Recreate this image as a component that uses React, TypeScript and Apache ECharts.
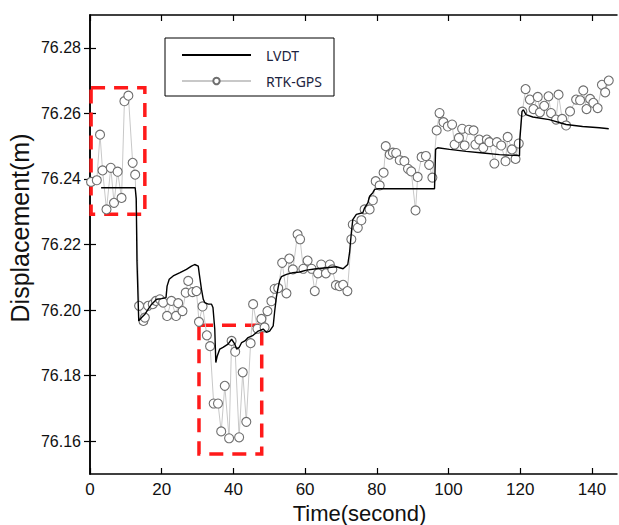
import React, { useEffect, useRef } from "react";
import * as echarts from "echarts";

const xTicks = [0, 20, 40, 60, 80, 100, 120, 140];
const yTicks = [76.16, 76.18, 76.2, 76.22, 76.24, 76.26, 76.28];

const lvdt: [number, number][] = [
  [3.1, 76.2373], [12.6, 76.2373], [12.9, 76.234], [13.1, 76.215], [13.6, 76.1967],
  [14.4, 76.1977], [15.3, 76.1987], [16.2, 76.2002], [17.2, 76.2018], [18.6, 76.2033],
  [20.0, 76.2035], [21.2, 76.2038], [21.5, 76.2073], [22.1, 76.2094], [23.2, 76.2104],
  [25.1, 76.2114], [26.9, 76.2124], [28.3, 76.2134], [29.2, 76.2139], [30.2, 76.2134],
  [30.5, 76.2109], [31.1, 76.2063], [31.6, 76.2033], [32.0, 76.2023], [33.0, 76.2018],
  [33.9, 76.2018], [34.3, 76.2008], [34.8, 76.1942], [35.1, 76.184], [35.5, 76.186],
  [36.2, 76.1881], [37.1, 76.1886], [38.5, 76.1896], [39.5, 76.1911], [40.4, 76.1896],
  [40.9, 76.1881], [41.6, 76.1886], [42.3, 76.1901], [43.2, 76.1906], [44.1, 76.1916],
  [45.5, 76.1923], [46.9, 76.1936], [48.3, 76.1942], [49.2, 76.1932], [50.1, 76.1936],
  [51.1, 76.1952], [51.5, 76.1995], [52.0, 76.204], [52.5, 76.207], [52.9, 76.209],
  [53.4, 76.2102], [54.8, 76.2109], [56.6, 76.2114], [58.5, 76.2116], [60.4, 76.2122],
  [63.1, 76.2126], [65.9, 76.2129], [68.7, 76.2132], [70.6, 76.2126], [71.9, 76.2139],
  [72.4, 76.2175], [72.9, 76.2236], [73.3, 76.2276], [74.3, 76.2292], [76.1, 76.2297],
  [76.6, 76.2312], [77.5, 76.2327], [78.0, 76.2347], [78.9, 76.2358], [79.4, 76.2368],
  [80.3, 76.237], [96.1, 76.237], [96.4, 76.249], [97.0, 76.2495], [100.3, 76.249],
  [104.9, 76.2484], [109.6, 76.2479], [114.2, 76.2474], [119.8, 76.2471], [119.9, 76.252],
  [120.5, 76.2606], [120.9, 76.2611], [121.6, 76.2596], [123.5, 76.2589], [128.1, 76.2581],
  [132.8, 76.2566], [137.4, 76.256], [142.1, 76.2556], [144.7, 76.2553],
];

const rtkGps: [number, number][] = [
  [0.3, 76.2391], [1.9, 76.2396], [2.8, 76.2535], [3.5, 76.2426], [4.6, 76.2307],
  [5.8, 76.2434], [6.7, 76.2327], [7.7, 76.2422], [8.8, 76.2342], [9.6, 76.2637],
  [10.7, 76.2654], [11.9, 76.2449], [12.6, 76.2413], [13.7, 76.2013], [14.9, 76.1967],
  [15.3, 76.1977], [16.2, 76.2013], [17.5, 76.2018], [18.4, 76.2028], [19.5, 76.2033],
  [20.4, 76.2023], [21.5, 76.1982], [22.7, 76.2028], [24.0, 76.1982], [24.6, 76.2021],
  [25.8, 76.1997], [26.7, 76.2053], [27.4, 76.2089], [28.6, 76.2055], [29.7, 76.2058],
  [30.4, 76.1964], [31.4, 76.2011], [32.6, 76.1923], [33.5, 76.189], [34.5, 76.1715],
  [35.7, 76.1715], [36.6, 76.163], [37.6, 76.1769], [38.8, 76.1609], [39.5, 76.1906],
  [40.5, 76.1873], [41.6, 76.1612], [42.6, 76.181], [43.6, 76.1659], [44.8, 76.1899],
  [45.5, 76.2018], [46.7, 76.1943], [47.8, 76.1973], [48.7, 76.1947], [49.5, 76.1997],
  [50.6, 76.2027], [51.5, 76.2065], [52.5, 76.2067], [53.6, 76.2144], [54.8, 76.2051],
  [55.6, 76.2157], [56.6, 76.2124], [57.9, 76.2231], [58.6, 76.2216], [59.5, 76.2126],
  [60.7, 76.2151], [61.8, 76.2126], [62.7, 76.2058], [63.6, 76.2112], [64.5, 76.2139],
  [65.8, 76.2112], [66.9, 76.2139], [67.6, 76.2124], [68.6, 76.2076], [69.6, 76.2073],
  [70.6, 76.2077], [71.8, 76.2058], [72.9, 76.2216], [73.3, 76.2261], [74.7, 76.2251],
  [75.7, 76.2274], [76.6, 76.2307], [78.0, 76.2307], [78.9, 76.2335], [79.7, 76.2393],
  [80.8, 76.238], [81.9, 76.2419], [82.5, 76.25], [83.6, 76.2474], [84.5, 76.248],
  [85.4, 76.2479], [86.4, 76.2457], [87.7, 76.2454], [88.7, 76.2431], [89.6, 76.2423],
  [90.8, 76.2304], [91.4, 76.2406], [92.5, 76.2467], [93.7, 76.247], [94.6, 76.2443],
  [95.5, 76.2404], [96.7, 76.2548], [97.5, 76.2601], [98.6, 76.2573], [99.8, 76.256],
  [101.0, 76.2566], [101.7, 76.2505], [102.9, 76.2525], [103.8, 76.2553], [104.5, 76.2502],
  [105.7, 76.255], [107.0, 76.2548], [107.5, 76.2505], [108.6, 76.252], [109.7, 76.2495],
  [110.7, 76.252], [111.4, 76.2512], [112.8, 76.2447], [113.5, 76.2512], [114.7, 76.2502],
  [115.9, 76.2454], [116.5, 76.2528], [117.7, 76.249], [118.7, 76.2461], [119.6, 76.2508],
  [120.6, 76.2605], [121.5, 76.2674], [122.7, 76.2642], [123.7, 76.2613], [124.9, 76.265],
  [125.5, 76.2603], [126.7, 76.2623], [127.9, 76.2652], [128.6, 76.2601], [130.0, 76.2581],
  [130.7, 76.2657], [131.7, 76.2583], [132.8, 76.2563], [133.9, 76.2606], [135.6, 76.2642],
  [136.7, 76.264], [137.6, 76.267], [138.5, 76.2613], [139.5, 76.2644], [140.4, 76.2632],
  [141.6, 76.2616], [142.8, 76.2687], [143.7, 76.2664], [144.7, 76.27],
];

const highlightBoxes: [[number, number], [number, number]][] = [
  [[0.3, 76.2678], [15.3, 76.2292]],
  [[30.4, 76.1954], [47.9, 76.1561]],
];

const X_MIN = 0;
const X_MAX = 147;
const Y_MIN = 76.15;
const Y_MAX = 76.29;

export default function App() {
  const ref = useRef<HTMLDivElement>(null);
  useEffect(() => {
    document.body.style.margin = "0";
    if (!ref.current) return;
    const chart = echarts.init(ref.current, undefined, { renderer: "svg" });
    const font = "'Liberation Sans', Arial, sans-serif";
    const axisCommon = {
      axisLine: { show: true, lineStyle: { color: "#000", width: 1.5 } },
      splitLine: { show: false },
    };
    const tickStyle = { color: "#000", width: 1.2 };
    chart.setOption({
      animation: false,
      backgroundColor: "#fff",
      grid: { left: 90, right: 2, top: 15, bottom: 51, containLabel: false, outerBoundsMode: "none" },
      legend: {
        orient: "vertical",
        left: 165,
        top: 38,
        width: 177,
        borderColor: "#000",
        borderWidth: 1,
        padding: [10, 12, 8, 16],
        itemWidth: 69,
        itemHeight: 8,
        itemGap: 12,
        textStyle: {
          fontFamily: "'Noto Sans', sans-serif",
          fontSize: 14,
          color: "#1c2340",
          padding: [0, 0, 0, 10],
        },
        data: [
          { name: "LVDT", itemStyle: { opacity: 0 } },
          { name: "RTK-GPS" },
        ],
      },
      xAxis: [
        {
          type: "value",
          min: X_MIN,
          max: X_MAX,
          position: "bottom",
          name: "Time(second)",
          nameLocation: "middle",
          nameGap: 22,
          nameTextStyle: { fontFamily: font, fontSize: 22, color: "#111", padding: [0, 0, 0, 12] },
          ...axisCommon,
          axisTick: { show: true, inside: true, length: 6, customValues: xTicks, lineStyle: tickStyle },
          axisLabel: {
            show: true,
            customValues: xTicks,
            fontFamily: font,
            fontSize: 17,
            color: "#111",
            margin: 7,
          },
        },
        {
          type: "value",
          min: X_MIN,
          max: X_MAX,
          position: "top",
          ...axisCommon,
          axisTick: { show: true, inside: true, length: 6, customValues: xTicks, lineStyle: tickStyle },
          axisLabel: { show: false },
        },
      ],
      yAxis: [
        {
          type: "value",
          min: Y_MIN,
          max: Y_MAX,
          position: "left",
          ...axisCommon,
          axisTick: { show: true, inside: true, length: 6, customValues: yTicks, lineStyle: tickStyle },
          axisLabel: {
            show: true,
            customValues: yTicks,
            formatter: (v: number) => v.toFixed(2),
            fontFamily: font,
            fontSize: 16,
            color: "#111",
            margin: 9,
          },
        },
        {
          type: "value",
          min: Y_MIN,
          max: Y_MAX,
          position: "right",
          ...axisCommon,
          axisTick: { show: true, inside: true, length: 6, customValues: yTicks, lineStyle: tickStyle },
          axisLabel: { show: false },
        },
      ],
      graphic: [
        {
          type: "text",
          x: 20,
          y: 228,
          rotation: Math.PI / 2,
          style: {
            text: "Displacement(m)",
            font: `25px ${font}`,
            fill: "#111",
            textAlign: "center",
            textVerticalAlign: "middle",
          },
        },
      ],
      series: [
        {
          name: "RTK-GPS",
          type: "line",
          data: rtkGps,
          symbol: "circle",
          symbolSize: 9,
          showSymbol: true,
          lineStyle: { color: "#c8c8c8", width: 1 },
          itemStyle: { color: "#ffffff", borderColor: "#6e6e6e", borderWidth: 1.1 },
          z: 2,
          markArea: {
            silent: true,
            itemStyle: {
              color: "rgba(0,0,0,0)",
              borderColor: "#ff1a1a",
              borderWidth: 3.5,
              borderType: [14, 9],
            },
            data: highlightBoxes.map((b) => [{ coord: b[0] }, { coord: b[1] }]),
          },
        },
        {
          name: "LVDT",
          type: "line",
          data: lvdt,
          symbol: "none",
          showSymbol: false,
          lineStyle: { color: "#000", width: 1.4 },
          itemStyle: { color: "#000" },
          z: 3,
        },
      ],
    });
    return () => chart.dispose();
  }, []);
  return <div ref={ref} style={{ width: 619, height: 525 }} />;
}
